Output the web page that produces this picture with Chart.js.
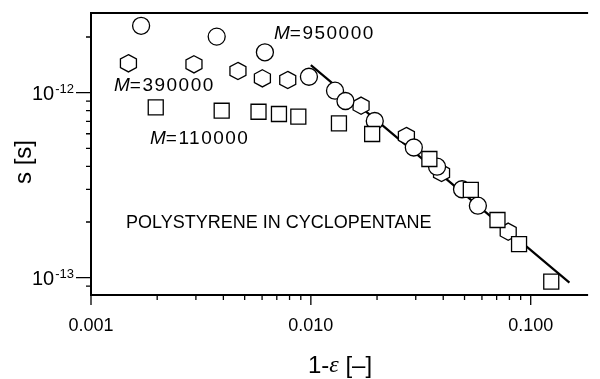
<!DOCTYPE html>
<html>
<head>
<meta charset="utf-8">
<script src="https://cdn.jsdelivr.net/npm/chart.js@4"></script>
<style>
  html, body { margin: 0; padding: 0; background: #fff; }
</style>
</head>
<body>
<canvas id="chart" width="600" height="379"></canvas>
<script>
// M = 950000 (circles)
const circleX = [0.00169, 0.00373, 0.00618, 0.0098, 0.01288, 0.01437, 0.01953, 0.0294, 0.0375, 0.0487, 0.0575];
const circleY = [2.30e-12, 2.01e-12, 1.654e-12, 1.22e-12, 1.025e-12, 0.902e-12, 0.703e-12, 0.5055e-12, 0.398e-12, 0.3006e-12, 0.245e-12];

// M = 390000 (hexagons)
const hexX = [0.00148, 0.00294, 0.00466, 0.00602, 0.00785, 0.01692, 0.0272, 0.0393, 0.079];
const hexY = [1.442e-12, 1.424e-12, 1.31e-12, 1.196e-12, 1.171e-12, 0.851e-12, 0.583e-12, 0.368e-12, 0.1773e-12];

// M = 110000 (squares)
const squareX = [0.00197, 0.00393, 0.00578, 0.00716, 0.00877, 0.01342, 0.019, 0.0346, 0.0534, 0.0706, 0.0885, 0.124];
const squareY = [0.834e-12, 0.799e-12, 0.789e-12, 0.767e-12, 0.742e-12, 0.683e-12, 0.598e-12, 0.438e-12, 0.298e-12, 0.205e-12, 0.152e-12, 0.0952e-12];

// fitted line, slope -1
const fitX = [0.01, 0.15];
const fitY = [1.41e-12, 0.094e-12];

const xTickValues = [0.001, 0.01, 0.1];
const xTickLabels = ["0.001", "0.010", "0.100"];
const yTickValues = [1e-12, 1e-13];
const yTickExponents = ["-12", "-13"];

const labelSeries = ["950000", "390000", "110000"];
const noteText = "POLYSTYRENE IN CYCLOPENTANE";

const toPoints = (xs, ys) => xs.map((x, i) => ({ x: x, y: ys[i] }));

// hexagons drawn at the positions chart.js computed for the dataset
const hexPlugin = {
  id: "hex",
  afterDatasetDraw(chart, args) {
    if (chart.data.datasets[args.index].label !== "M=390000") return;
    const ctx = chart.ctx;
    ctx.save();
    ctx.fillStyle = "#fff";
    ctx.strokeStyle = "#000";
    ctx.lineWidth = 1.3;
    args.meta.data.forEach((pt) => {
      ctx.beginPath();
      for (let i = 0; i < 6; i++) {
        const ang = -Math.PI / 2 + i * Math.PI / 3;
        const px = pt.x + 8.0 / Math.cos(Math.PI / 6) * Math.cos(ang);
        const py = pt.y + 8.6 * Math.sin(ang);
        if (i === 0) ctx.moveTo(px, py); else ctx.lineTo(px, py);
      }
      ctx.closePath();
      ctx.fill();
      ctx.stroke();
    });
    ctx.restore();
  }
};

const axesPlugin = {
  id: "axes",
  afterDraw(chart) {
    const { ctx, chartArea: a, scales: { x, y } } = chart;
    ctx.save();
    ctx.strokeStyle = "#000";
    ctx.fillStyle = "#000";

    // frame: top, left, bottom
    ctx.lineWidth = 2;
    ctx.beginPath();
    ctx.moveTo(a.right, a.top);
    ctx.lineTo(a.left, a.top);
    ctx.lineTo(a.left, a.bottom);
    ctx.lineTo(a.right, a.bottom);
    ctx.stroke();

    // ticks
    ctx.lineWidth = 1.3;
    ctx.beginPath();
    for (let d = -3; d <= -1; d++) {
      for (let m = 1; m <= 9; m++) {
        const v = m * Math.pow(10, d);
        if (v < x.min || v > x.max) continue;
        const px = x.getPixelForValue(v);
        ctx.moveTo(px, a.bottom);
        ctx.lineTo(px, a.bottom + (m === 1 ? 10 : 5));
      }
    }
    for (let d = -14; d <= -12; d++) {
      for (let m = 1; m <= 9; m++) {
        const v = m * Math.pow(10, d);
        if (v < y.min || v > y.max) continue;
        const py = y.getPixelForValue(v);
        ctx.moveTo(a.left, py);
        ctx.lineTo(a.left - (m === 1 ? 15 : 5), py);
      }
    }
    ctx.stroke();

    // x tick labels
    ctx.font = "18px 'Liberation Sans', Arial, sans-serif";
    ctx.textAlign = "center";
    ctx.textBaseline = "middle";
    xTickValues.forEach((v, i) => {
      ctx.fillText(xTickLabels[i], x.getPixelForValue(v), 326);
    });

    // y tick labels 10^n
    yTickValues.forEach((v, i) => {
      const py = y.getPixelForValue(v);
      const right = 74;
      ctx.textAlign = "right";
      ctx.font = "13px 'Liberation Sans', Arial, sans-serif";
      const supW = ctx.measureText(yTickExponents[i]).width;
      ctx.fillText(yTickExponents[i], right, py - 3);
      ctx.font = "20px 'Liberation Sans', Arial, sans-serif";
      ctx.fillText("10", right - supW - 1, py + 1.5);
    });

    // x title: 1-ε [–]
    ctx.textAlign = "left";
    const sans = "24px 'Liberation Sans', Arial, sans-serif";
    const serifIt = "italic 24px 'Liberation Serif', 'Times New Roman', serif";
    const parts = [["1-", sans], ["\u03b5", serifIt], [" [\u2013]", sans]];
    let total = 0;
    parts.forEach(([t, f]) => { ctx.font = f; total += ctx.measureText(t).width; });
    let cx = 340 - total / 2;
    parts.forEach(([t, f]) => {
      ctx.font = f;
      ctx.fillText(t, cx, 366);
      cx += ctx.measureText(t).width;
    });

    // y title
    ctx.save();
    ctx.translate(24, 162);
    ctx.rotate(-Math.PI / 2);
    ctx.textAlign = "center";
    ctx.font = sans;
    ctx.fillText("s [s]", 0, 0);
    ctx.restore();

    // series labels
    const spots = [[274, 34], [114, 86], [150, 139]];
    labelSeries.forEach((num, i) => {
      const [lx, ly] = spots[i];
      ctx.textAlign = "left";
      ctx.font = "italic 19px 'Liberation Sans', Arial, sans-serif";
      ctx.fillText("M", lx, ly);
      const mw = ctx.measureText("M").width;
      ctx.font = "19px 'Liberation Sans', Arial, sans-serif";
      ctx.letterSpacing = "1.5px";
      ctx.fillText("=" + num, lx + mw, ly);
      ctx.letterSpacing = "0px";
    });

    ctx.font = "18px 'Liberation Sans', Arial, sans-serif";
    ctx.fillText(noteText, 126, 223);

    ctx.restore();
  }
};

const markerBase = {
  backgroundColor: "#fff",
  borderColor: "#000",
  borderWidth: 1.3,
  pointBackgroundColor: "#fff",
  pointBorderColor: "#000",
  pointBorderWidth: 1.3,
  showLine: false
};

new Chart(document.getElementById("chart"), {
  type: "scatter",
  data: {
    datasets: [
      Object.assign({ label: "M=110000", data: toPoints(squareX, squareY), pointStyle: "rect", pointRadius: 10.6 }, markerBase),
      Object.assign({ label: "M=950000", data: toPoints(circleX, circleY), pointStyle: "circle", pointRadius: 8.5 }, markerBase),
      Object.assign({ label: "M=390000", data: toPoints(hexX, hexY), pointRadius: 0 }, markerBase),
      {
        label: "fit",
        data: toPoints(fitX, fitY),
        showLine: true,
        borderColor: "#000",
        borderWidth: 2.2,
        pointRadius: 0
      }
    ]
  },
  options: {
    responsive: false,
    animation: false,
    events: [],
    layout: { padding: { left: 91, top: 13, right: 0, bottom: 84 } },
    plugins: {
      legend: { display: false },
      tooltip: { enabled: false }
    },
    scales: {
      x: { type: "logarithmic", min: 0.001, max: 0.1824, display: false },
      y: { type: "logarithmic", min: 8.06e-14, max: 2.697e-12, display: false }
    }
  },
  plugins: [hexPlugin, axesPlugin]
});
</script>
</body>
</html>
